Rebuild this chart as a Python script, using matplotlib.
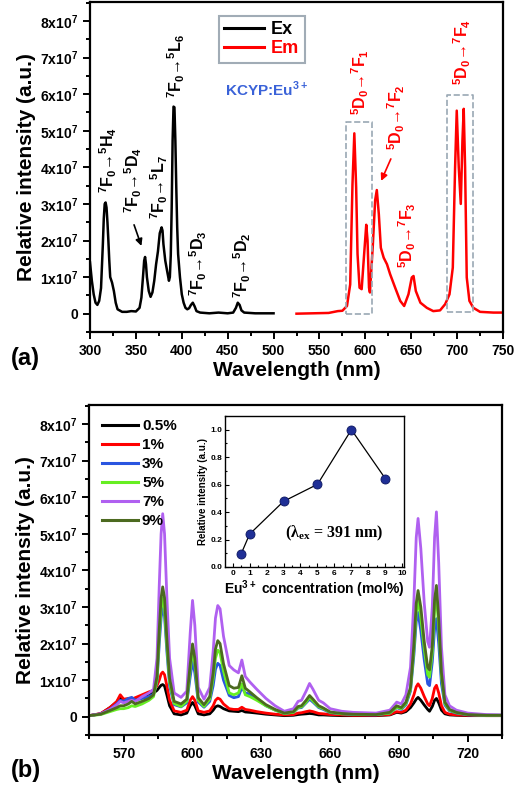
import numpy as np
import matplotlib.pyplot as plt
from matplotlib.ticker import MultipleLocator

plt.rcParams['font.family'] = ['Liberation Sans', 'DejaVu Sans']
plt.rcParams['font.weight'] = 'bold'
plt.rcParams['axes.linewidth'] = 1.6

# ---- panel (a): excitation (Ex) and emission (Em), units of 1e7 ----
ex_wl = [300, 302, 304, 306, 308, 310, 312, 314, 315, 316, 317, 318, 319, 320, 321, 322, 324, 326, 328,
         330, 335, 340, 345, 350, 354, 356, 358, 359, 360, 361, 362, 364, 366, 368, 370, 372, 374, 376,
         378, 379, 380, 382, 384, 386, 387, 388, 389, 390, 391, 392, 393, 394, 395, 396, 398, 400, 402,
         404, 406, 408, 410, 412, 414, 416, 420, 430, 440, 450, 456, 459, 461, 463, 465, 468, 480, 500]
ex_val = [1.4, 0.9, 0.53, 0.3, 0.24, 0.35, 0.7, 1.9, 2.6, 3.0, 3.04, 2.9, 2.5, 2.0, 1.45, 1.0, 0.85, 0.62,
          0.3, 0.12, 0.05, 0.05, 0.07, 0.06, 0.16, 0.44, 1.1, 1.45, 1.55, 1.35, 1.0, 0.62, 0.46, 0.58, 0.9,
          1.35, 1.7, 2.2, 2.36, 2.27, 1.9, 1.45, 1.17, 0.9, 1.0, 1.6, 2.9, 4.73, 5.66, 5.64, 4.73, 3.45,
          2.36, 1.63, 1.0, 0.53, 0.3, 0.16, 0.12, 0.15, 0.24, 0.3, 0.2, 0.07, 0.03, 0.01, 0.03, 0.01, 0.03,
          0.16, 0.3, 0.24, 0.09, 0.03, 0.01, 0.01]

em_wl = [525, 560, 570, 575, 580, 583.5, 586, 588, 590, 591.5, 593.7, 596, 598.7, 601, 602.4, 604, 605,
         608, 610.7, 612.5, 614.7, 616.9, 620, 623.6, 627, 632.5, 638, 642.3, 647, 650.6, 652.5, 655, 660,
         667, 674, 681.4, 687, 691.7, 695.3, 697.8, 699.6, 701.8, 704, 705.8, 707.2, 708.7, 710.5, 713.4,
         717.7, 725, 739.5, 750]
em_val = [0.0, 0.02, 0.07, 0.08, 0.21, 0.8, 3.54, 4.93, 3.45, 1.63, 0.71, 0.67, 1.63, 2.43, 2.0, 0.71,
          0.58, 1.8, 3.1, 3.38, 2.72, 1.8, 1.53, 1.35, 1.08, 0.71, 0.35, 0.21, 0.53, 0.99, 1.03, 0.62, 0.3,
          0.16, 0.07, 0.09, 0.26, 0.53, 1.26, 4.0, 5.55, 4.0, 3.0, 4.73, 5.6, 4.0, 0.99, 0.35, 0.16, 0.05,
          0.03, 0.03]

# ---- panel (b): emission vs Eu concentration, units of 1e7 ----
wl_b = [555, 560, 564, 567, 568.5, 570, 572, 573.5, 575, 578, 581, 583, 584.5, 585.5, 586.3, 587, 587.8,
        588.8, 590, 592, 595, 597.5, 599, 600, 601, 602.5, 605, 607.5, 609, 610, 611, 612, 613.5, 616, 618,
        620, 621.5, 623, 625, 628, 632, 636, 640, 644, 646, 647.5, 649.5, 651, 652.5, 655, 657, 660, 665,
        670, 680, 686, 689, 691, 693, 695, 696.5, 697.5, 698.3, 699.5, 701, 702.5, 703.3, 704.5, 705.5,
        706.3, 707.3, 708.5, 710, 712, 715, 720, 728, 735]
c05 = [0.03, 0.08, 0.25, 0.4, 0.55, 0.45, 0.47, 0.45, 0.5, 0.55, 0.62, 0.65, 0.72, 0.8, 0.86, 0.88, 0.84,
       0.6, 0.3, 0.08, 0.05, 0.1, 0.3, 0.39, 0.3, 0.08, 0.05, 0.08, 0.18, 0.27, 0.3, 0.28, 0.22, 0.16,
       0.15, 0.14, 0.17, 0.13, 0.12, 0.1, 0.07, 0.05, 0.03, 0.04, 0.06, 0.07, 0.08, 0.09, 0.08, 0.05, 0.05,
       0.04, 0.03, 0.03, 0.03, 0.05, 0.12, 0.1, 0.14, 0.25, 0.38, 0.48, 0.53, 0.45, 0.32, 0.2, 0.15, 0.28,
       0.45, 0.5, 0.38, 0.18, 0.08, 0.05, 0.04, 0.03, 0.03, 0.03]
c1 = [0.03, 0.09, 0.25, 0.42, 0.6, 0.48, 0.5, 0.48, 0.52, 0.6, 0.68, 0.72, 0.85, 1.0, 1.17, 1.22, 1.15,
      0.85, 0.45, 0.16, 0.12, 0.18, 0.45, 0.55, 0.45, 0.16, 0.12, 0.16, 0.3, 0.45, 0.51, 0.48, 0.35, 0.22,
      0.2, 0.2, 0.26, 0.2, 0.18, 0.14, 0.1, 0.07, 0.05, 0.06, 0.1, 0.11, 0.14, 0.16, 0.14, 0.09, 0.08,
      0.06, 0.05, 0.04, 0.04, 0.06, 0.14, 0.12, 0.18, 0.35, 0.6, 0.82, 0.9, 0.78, 0.55, 0.35, 0.3, 0.5,
      0.78, 0.86, 0.65, 0.3, 0.12, 0.07, 0.05, 0.04, 0.03, 0.03]
c3 = [0.03, 0.08, 0.2, 0.35, 0.45, 0.42, 0.5, 0.53, 0.45, 0.5, 0.55, 0.62, 0.95, 2.0, 2.7, 3.0, 2.75, 1.8,
      0.85, 0.33, 0.27, 0.38, 1.1, 1.53, 1.2, 0.4, 0.26, 0.42, 0.85, 1.3, 1.46, 1.4, 1.0, 0.58, 0.52, 0.55,
      0.8, 0.65, 0.62, 0.48, 0.3, 0.18, 0.09, 0.12, 0.24, 0.25, 0.38, 0.48, 0.4, 0.25, 0.2, 0.11, 0.08,
      0.06, 0.05, 0.1, 0.25, 0.2, 0.33, 0.7, 1.7, 2.6, 2.85, 2.35, 1.55, 0.9, 0.85, 1.5, 2.4, 2.68, 2.0,
      0.9, 0.32, 0.16, 0.1, 0.05, 0.04, 0.04]
c5 = [0.03, 0.06, 0.14, 0.2, 0.22, 0.22, 0.25, 0.3, 0.28, 0.35, 0.45, 0.55, 1.0, 2.2, 2.95, 3.25, 2.95, 1.95,
      0.95, 0.36, 0.28, 0.42, 1.3, 1.8, 1.45, 0.45, 0.28, 0.48, 1.05, 1.6, 1.82, 1.75, 1.25, 0.65, 0.6, 0.65,
      0.9, 0.6, 0.55, 0.45, 0.3, 0.18, 0.09, 0.12, 0.25, 0.27, 0.4, 0.53, 0.43, 0.27, 0.22, 0.12, 0.08,
      0.07, 0.06, 0.1, 0.26, 0.22, 0.36, 0.75, 1.85, 2.85, 3.2, 2.7, 1.85, 1.15, 1.08, 1.75, 2.95, 3.3,
      2.45, 1.1, 0.36, 0.18, 0.11, 0.06, 0.04, 0.04]
c7 = [0.03, 0.08, 0.2, 0.33, 0.42, 0.38, 0.42, 0.45, 0.42, 0.55, 0.65, 0.75, 1.6, 3.6, 5.0, 5.55, 5.0, 3.3,
      1.6, 0.65, 0.53, 0.7, 2.3, 3.18, 2.5, 0.8, 0.48, 0.8, 1.8, 2.7, 3.04, 2.95, 2.2, 1.4, 1.28, 1.2, 1.55,
      1.1, 0.95, 0.75, 0.5, 0.3, 0.15, 0.22, 0.42, 0.45, 0.7, 0.91, 0.75, 0.45, 0.38, 0.22, 0.15, 0.12,
      0.1, 0.18, 0.4, 0.35, 0.6, 1.35, 3.2, 4.9, 5.42, 4.6, 3.1, 2.05, 1.9, 3.0, 4.9, 5.6, 4.2, 1.9, 0.6,
      0.3, 0.18, 0.1, 0.06, 0.05]
c9 = [0.03, 0.07, 0.17, 0.25, 0.3, 0.3, 0.35, 0.42, 0.35, 0.42, 0.5, 0.6, 1.1, 2.4, 3.25, 3.55, 3.25, 2.15,
      1.05, 0.42, 0.35, 0.48, 1.45, 1.99, 1.6, 0.52, 0.33, 0.55, 1.2, 1.85, 2.08, 2.0, 1.45, 0.85, 0.78, 0.8,
      1.12, 0.78, 0.68, 0.52, 0.33, 0.2, 0.1, 0.14, 0.28, 0.3, 0.45, 0.58, 0.48, 0.3, 0.24, 0.13, 0.09,
      0.07, 0.06, 0.12, 0.3, 0.25, 0.4, 0.8, 2.0, 3.1, 3.45, 3.0, 2.05, 1.35, 1.28, 1.95, 3.2, 3.59, 2.7,
      1.2, 0.4, 0.2, 0.12, 0.06, 0.04, 0.04]
conc_labels = ['0.5%', '1%', '3%', '5%', '7%', '9%']
conc_colors = ['#000000', '#ff0000', '#2a55e0', '#66ee22', '#b060f0', '#4c6a20']

# inset: relative intensity vs concentration
conc = [0.5, 1, 3, 5, 7, 9]
rel_int = [0.095, 0.239, 0.478, 0.602, 1.0, 0.644]

ytick_vals = [0, 1, 2, 3, 4, 5, 6, 7, 8]
ytick_labels = ['0'] + ['%dx10$^{\\mathregular{7}}$' % v for v in ytick_vals[1:]]

fig = plt.figure(figsize=(5.2, 7.98), dpi=100)


def style_axes(ax):
    ax.set_ylim(-0.5, 8.52)
    ax.set_yticks(ytick_vals)
    ax.set_yticklabels(ytick_labels)
    ax.yaxis.set_minor_locator(MultipleLocator(0.5))
    ax.tick_params(which='both', direction='out', top=False, right=False, labelsize=10, width=1.4)
    ax.tick_params(which='major', length=5)
    ax.tick_params(which='minor', length=3)
    ax.set_xlabel('Wavelength (nm)', fontsize=15, fontweight='bold', labelpad=2)
    ax.set_ylabel('Relative intensity (a.u.)', fontsize=15, fontweight='bold', labelpad=3)


def trans(lo, lo_i, hi, hi_i):
    # e.g. 7F0 -> 5H4 with bold super/subscripts
    return ('$\\mathregular{^%s}$%s$\\mathregular{_%s}$\u2192$\\mathregular{^%s}$%s$\\mathregular{_%s}$'
            % (lo[0], lo[1], lo_i, hi[0], hi[1], hi_i))


# ---------------- (a) ----------------
ax1 = fig.add_axes([0.1731, 0.584, 0.7942, 0.4135])
ax1.plot(ex_wl, ex_val, color='black', lw=1.8, label='Ex')
ax1.plot(em_wl, em_val, color='red', lw=1.8, label='Em')
ax1.set_xlim(300, 750)
ax1.xaxis.set_major_locator(MultipleLocator(50))
ax1.xaxis.set_minor_locator(MultipleLocator(25))
style_axes(ax1)

ann_kw = dict(rotation=90, ha='center', va='bottom', fontsize=11.5, fontweight='bold')
ax1.text(320, 3.3, trans('7F', 0, '5H', 4), **ann_kw)
ax1.text(347, 2.74, trans('7F', 0, '5D', 4), **ann_kw)
ax1.text(375, 2.58, trans('7F', 0, '5L', 7), **ann_kw)
ax1.text(394, 5.9, trans('7F', 0, '5L', 6), **ann_kw)
ax1.text(418.5, 0.49, trans('7F', 0, '5D', 3), **ann_kw)
ax1.text(465.5, 0.44, trans('7F', 0, '5D', 2), **ann_kw)
ax1.annotate('', xy=(357, 1.78), xytext=(347, 2.5),
             arrowprops=dict(arrowstyle='-|>', color='black', lw=1.2, mutation_scale=10))

ax1.text(594.5, 5.42, trans('5D', 0, '7F', 1), color='red', **ann_kw)
ax1.text(634, 4.47, trans('5D', 0, '7F', 2), color='red', **ann_kw)
ax1.text(646, 1.26, trans('5D', 0, '7F', 3), color='red', **ann_kw)
ax1.text(706, 6.25, trans('5D', 0, '7F', 4), color='red', **ann_kw)
ax1.annotate('', xy=(616, 3.56), xytext=(629, 4.3),
             arrowprops=dict(arrowstyle='-|>', color='red', lw=1.2, mutation_scale=10))

# dashed boxes around the 7F1 and 7F4 bands
ax1.plot([579, 607, 607, 579, 579], [0, 0, 5.23, 5.23, 0], ls='--', color='#9aa8b4', lw=1.2)
ax1.plot([689, 717, 717, 689, 689], [0.05, 0.05, 5.97, 5.97, 0.05], ls='--', color='#9aa8b4', lw=1.2)

leg1 = ax1.legend(loc='upper left', bbox_to_anchor=(0.29, 0.985), frameon=True,
                  fancybox=False, edgecolor='#8a98a4', handlelength=2.2, handletextpad=0.4,
                  borderpad=0.3, labelspacing=0.1, prop={'weight': 'bold', 'size': 13})
leg1.get_frame().set_linewidth(1.5)
for t, c in zip(leg1.get_texts(), ['black', 'red']):
    t.set_color(c)
for h in leg1.get_lines():
    h.set_linewidth(2.2)

ax1.text(0.327, 0.735, 'KCYP:Eu$^{\\mathregular{3+}}$', transform=ax1.transAxes, color='#3a62d8',
         fontsize=11, fontweight='bold', va='center')

fig.text(0.02, 1 - 358 / 798, '(a)', fontsize=17, fontweight='bold', va='center')

# ---------------- (b) ----------------
ax2 = fig.add_axes([0.1717, 0.0789, 0.7942, 0.4135])
for vals, lab, col in zip([c05, c1, c3, c5, c7, c9], conc_labels, conc_colors):
    ax2.plot(wl_b, vals, color=col, lw=2.0, label=lab)
ax2.set_xlim(555, 735)
ax2.xaxis.set_minor_locator(MultipleLocator(15))
ax2.set_xticks([570, 600, 630, 660, 690, 720])
style_axes(ax2)

leg2 = ax2.legend(loc='upper left', bbox_to_anchor=(0.0, 0.995), frameon=False, handlelength=2.4,
                  handletextpad=0.25, labelspacing=0.33, borderpad=0.3,
                  prop={'weight': 'bold', 'size': 11})
for h in leg2.get_lines():
    h.set_linewidth(2.2)

fig.text(0.02, 1 - 770 / 798, '(b)', fontsize=17, fontweight='bold', va='center')

# inset
ax3 = fig.add_axes([0.4327, 0.2895, 0.3442, 0.1892])
ax3.plot(conc, rel_int, color='black', lw=0.9, marker='o', markersize=6.5,
         markerfacecolor='#1f2f96', markeredgecolor='#0c1660', markeredgewidth=0.6)
ax3.set_xlim(-0.45, 10.1)
ax3.set_ylim(0, 1.1)
ax3.xaxis.set_major_locator(MultipleLocator(1))
ax3.xaxis.set_minor_locator(MultipleLocator(0.5))
ax3.yaxis.set_minor_locator(MultipleLocator(0.1))
ax3.set_yticks([0, 0.2, 0.4, 0.6, 0.8, 1.0])
ax3.set_yticklabels(['0.0', '0.2', '0.4', '0.6', '0.8', '1.0'])
ax3.tick_params(which='both', direction='in', labelsize=6, width=0.8, pad=2)
ax3.tick_params(which='major', length=3)
ax3.tick_params(which='minor', length=1.5)
for s in ax3.spines.values():
    s.set_linewidth(1.0)
ax3.set_xlabel('Eu$^{\\mathregular{3+}}$ concentration (mol%)', fontsize=10, fontweight='bold', labelpad=1)
ax3.set_ylabel('Relative intensity (a.u.)', fontsize=7, fontweight='bold', labelpad=2)
ax3.text(6.0, 0.245, '(λ$_\\mathregular{ex}$ = 391 nm)', family=['Liberation Serif', 'DejaVu Serif'],
         fontsize=11.5, fontweight='bold', ha='center', va='center')

fig.savefig('out.png', dpi=100)
